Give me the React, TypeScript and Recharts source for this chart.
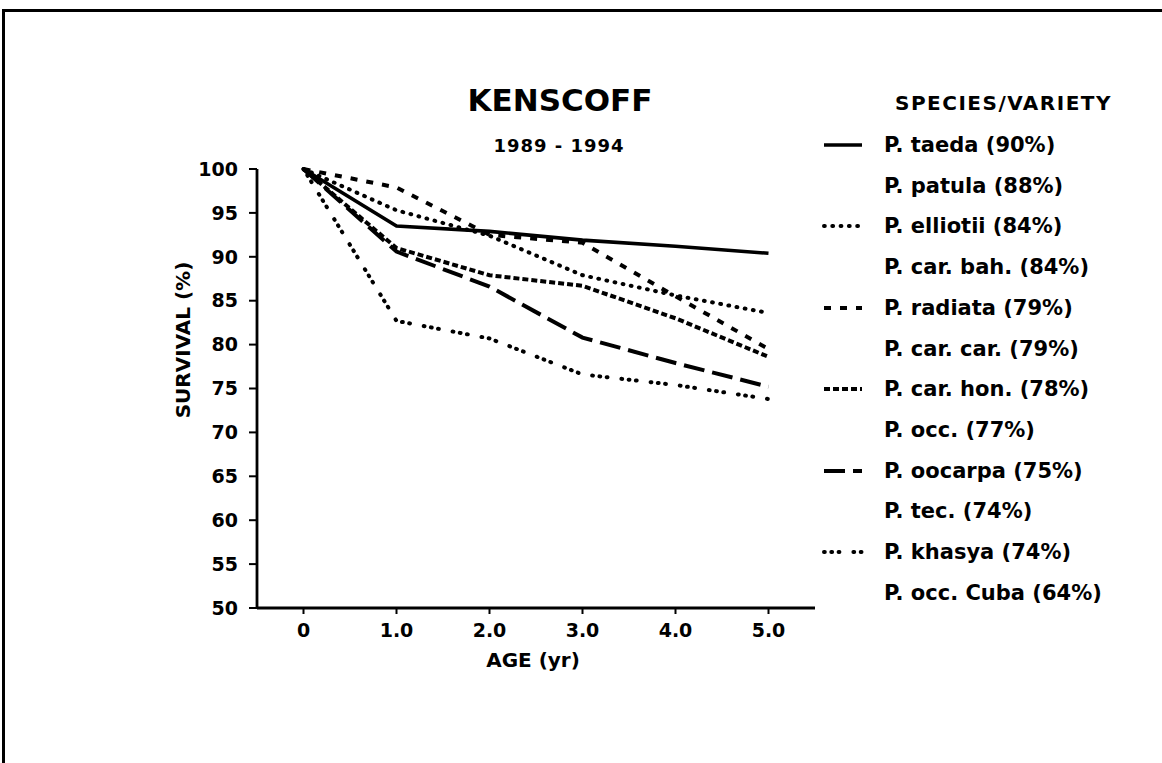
import React from 'react';
import { LineChart, Line, XAxis, YAxis } from 'recharts';

// ---- data ----
const ages = [0, 1, 2, 3, 4, 5];
const xTickLabels = ['0', '1.0', '2.0', '3.0', '4.0', '5.0'];
const yTicks = [50, 55, 60, 65, 70, 75, 80, 85, 90, 95, 100];

const taeda = [100, 93.5, 92.9, 91.9, 91.2, 90.4];
const elliotii = [100, 95.3, 92.4, 87.9, 85.6, 83.6];
const radiata = [100, 97.9, 92.5, 91.6, 85.5, 79.5];
const carHon = [100, 91.0, 87.9, 86.7, 83.0, 78.6];
const oocarpa = [100, 90.6, 86.6, 80.8, 77.9, 75.2];
const khasya = [100, 82.7, 80.7, 76.6, 75.4, 73.8];

const legendNames = [
  'P. taeda (90%)',
  'P. patula (88%)',
  'P. elliotii (84%)',
  'P. car. bah. (84%)',
  'P. radiata (79%)',
  'P. car. car. (79%)',
  'P. car. hon. (78%)',
  'P. occ. (77%)',
  'P. oocarpa (75%)',
  'P. tec. (74%)',
  'P. khasya (74%)',
  'P. occ. Cuba (64%)',
];
// which plotted series (key) each legend row shows a sample for
const legendKeys = ['taeda', null, 'elliotii', null, 'radiata', null, 'carHon', null, 'oocarpa', null, 'khasya', null];

const seriesKeys = ['taeda', 'elliotii', 'radiata', 'carHon', 'oocarpa', 'khasya'];
const seriesValues = [taeda, elliotii, radiata, carHon, oocarpa, khasya];

const data = ages.map((a, i) => {
  const row: Record<string, number> = { age: a };
  seriesKeys.forEach((k, j) => {
    row[k] = seriesValues[j][i];
  });
  return row;
});

// ---- styles ----
const styles: Record<string, { dash?: string; cap: 'round' | 'butt'; w: number }> = {
  taeda: { cap: 'butt', w: 3.6 },
  elliotii: { dash: '0.8 7.5', cap: 'round', w: 4 },
  radiata: { dash: '7 9', cap: 'butt', w: 4 },
  carHon: { dash: '6 3', cap: 'butt', w: 4 },
  oocarpa: { dash: '21 8', cap: 'butt', w: 4 },
  khasya: { dash: '0.8 6.5 0.8 6.5 0.8 14', cap: 'round', w: 4 },
};

const FONT = "'DejaVu Sans', 'Liberation Sans', Arial, sans-serif";

const xLabel = (v: number) => {
  const i = ages.indexOf(v);
  return i >= 0 ? xTickLabels[i] : String(v);
};

export default function App() {
  return (
    <div
      style={{
        position: 'absolute',
        left: 0,
        top: 0,
        width: 1162,
        height: 763,
        overflow: 'hidden',
        background: '#fff',
        fontFamily: FONT,
        fontWeight: 'bold',
        color: '#000',
      }}
    >
      {/* page frame */}
      <div
        style={{
          position: 'absolute',
          left: 2,
          top: 9,
          width: 1200,
          height: 800,
          borderTop: '3px solid #000',
          borderLeft: '3px solid #000',
        }}
      />
      <LineChart
        width={1162}
        height={763}
        data={data}
        margin={{ top: 169, right: 347, bottom: 125, left: 197 }}
        style={{ position: 'absolute', left: 0, top: 0 }}
      >
        <XAxis
          type="number"
          dataKey="age"
          domain={[-0.5, 5.5]}
          ticks={ages}
          tickFormatter={xLabel}
          height={30}
          tickSize={6}
          tickMargin={10}
          axisLine={{ stroke: '#000', strokeWidth: 2.8 }}
          tickLine={{ stroke: '#000', strokeWidth: 2 }}
          tick={{ fill: '#000', fontSize: 19, fontWeight: 'bold', fontFamily: FONT }}
        />
        <YAxis
          type="number"
          domain={[50, 100]}
          ticks={yTicks}
          width={60}
          tickSize={8}
          tickMargin={11}
          interval={0}
          axisLine={{ stroke: '#000', strokeWidth: 2.8 }}
          tickLine={{ stroke: '#000', strokeWidth: 2 }}
          tick={{ fill: '#000', fontSize: 19, fontWeight: 'bold', fontFamily: FONT }}
        />
        {seriesKeys.map((k) => (
          <Line
            key={k}
            type="linear"
            dataKey={k}
            stroke="#000"
            strokeWidth={styles[k].w}
            strokeDasharray={styles[k].dash}
            strokeLinecap={styles[k].cap}
            dot={false}
            activeDot={false}
            isAnimationActive={false}
          />
        ))}
      </LineChart>

      {/* titles */}
      <div style={{ position: 'absolute', left: 560, top: 100, transform: 'translate(-50%,-50%)', fontSize: 31, whiteSpace: 'nowrap' }}>
        KENSCOFF
      </div>
      <div style={{ position: 'absolute', left: 559, top: 145, transform: 'translate(-50%,-50%)', fontSize: 18, letterSpacing: 1, whiteSpace: 'nowrap' }}>
        1989 - 1994
      </div>
      {/* axis titles */}
      <div style={{ position: 'absolute', left: 183, top: 340, transform: 'translate(-50%,-50%) rotate(-90deg)', fontSize: 20, whiteSpace: 'nowrap' }}>
        SURVIVAL (%)
      </div>
      <div style={{ position: 'absolute', left: 533, top: 660, transform: 'translate(-50%,-50%)', fontSize: 20, whiteSpace: 'nowrap' }}>
        AGE (yr)
      </div>

      {/* legend */}
      <div style={{ position: 'absolute', left: 895, top: 103, transform: 'translateY(-50%)', fontSize: 20, letterSpacing: 1.5, whiteSpace: 'nowrap' }}>
        SPECIES/VARIETY
      </div>
      {legendNames.map((name, i) => {
        const k = legendKeys[i];
        const y = 145 + i * 40.7;
        return (
          <React.Fragment key={name}>
            {k && (
              <svg style={{ position: 'absolute', left: 822, top: y - 5 }} width={42} height={10}>
                <line
                  x1={2}
                  y1={5}
                  x2={40}
                  y2={5}
                  stroke="#000"
                  strokeWidth={styles[k].w}
                  strokeDasharray={styles[k].dash}
                  strokeLinecap={styles[k].cap}
                />
              </svg>
            )}
            <div style={{ position: 'absolute', left: 884, top: y, transform: 'translateY(-50%)', fontSize: 21, whiteSpace: 'nowrap' }}>
              {name}
            </div>
          </React.Fragment>
        );
      })}
    </div>
  );
}
